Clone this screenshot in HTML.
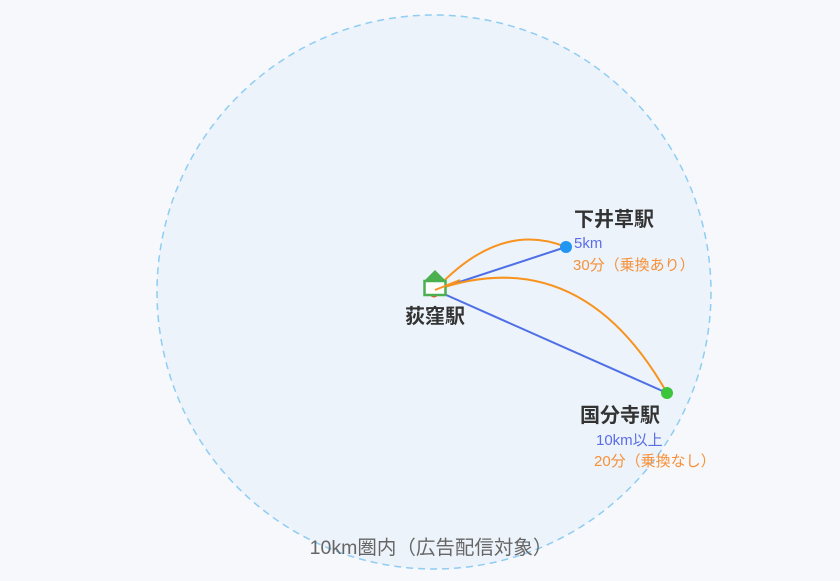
<!DOCTYPE html>
<html><head><meta charset="utf-8"><style>
body{margin:0;background:#f6f8fb;}
svg{display:block;font-family:"Liberation Sans","Noto Sans CJK JP",sans-serif;}
</style></head><body>
<svg width="840" height="581" viewBox="0 0 840 581">
<rect width="840" height="581" fill="#f6f8fb"/>
<circle cx="434" cy="292" r="277" fill="#ecf3fa" stroke="#8fcdf3" stroke-width="1.5" stroke-dasharray="7,5"/>
<line x1="435" y1="290" x2="566" y2="247" stroke="#4e6fe6" stroke-width="2"/>
<line x1="435" y1="290" x2="667" y2="393" stroke="#4e6fe6" stroke-width="2"/>
<path d="M435 290 Q500 220 566 247" fill="none" stroke="#f7931e" stroke-width="2"/>
<path d="M435 290 Q580 240 667 393" fill="none" stroke="#f7931e" stroke-width="2"/>
<circle cx="434" cy="293" r="4.5" fill="#e8532f"/>
<polygon points="424,281 435,270 446,281" fill="#4caf50"/>
<rect x="424.5" y="281" width="21" height="14" fill="#fff" stroke="#4caf50" stroke-width="2.5"/>
<line x1="435" y1="290" x2="460" y2="280" stroke="#f7931e" stroke-width="2"/>
<circle cx="566" cy="247" r="6" fill="#2196f3"/>
<circle cx="667" cy="393" r="6" fill="#3cc43c"/>
<text x="405" y="323" font-size="20" font-weight="bold" fill="#333">荻窪駅</text>
<text x="574" y="226" font-size="20" font-weight="bold" fill="#333">下井草駅</text>
<text x="574" y="248" font-size="15" fill="#5b6ee8">5km</text>
<text x="573" y="270" font-size="15" fill="#f7913a">30分（乗換あり）</text>
<text x="580" y="422" font-size="20" font-weight="bold" fill="#333">国分寺駅</text>
<text x="596" y="445" font-size="15" fill="#5b6ee8">10km以上</text>
<text x="594" y="466" font-size="15" fill="#f7913a">20分（乗換なし）</text>
<text x="431" y="554" font-size="19.5" fill="#666" text-anchor="middle">10km圏内（広告配信対象）</text>
</svg>
</body></html>
